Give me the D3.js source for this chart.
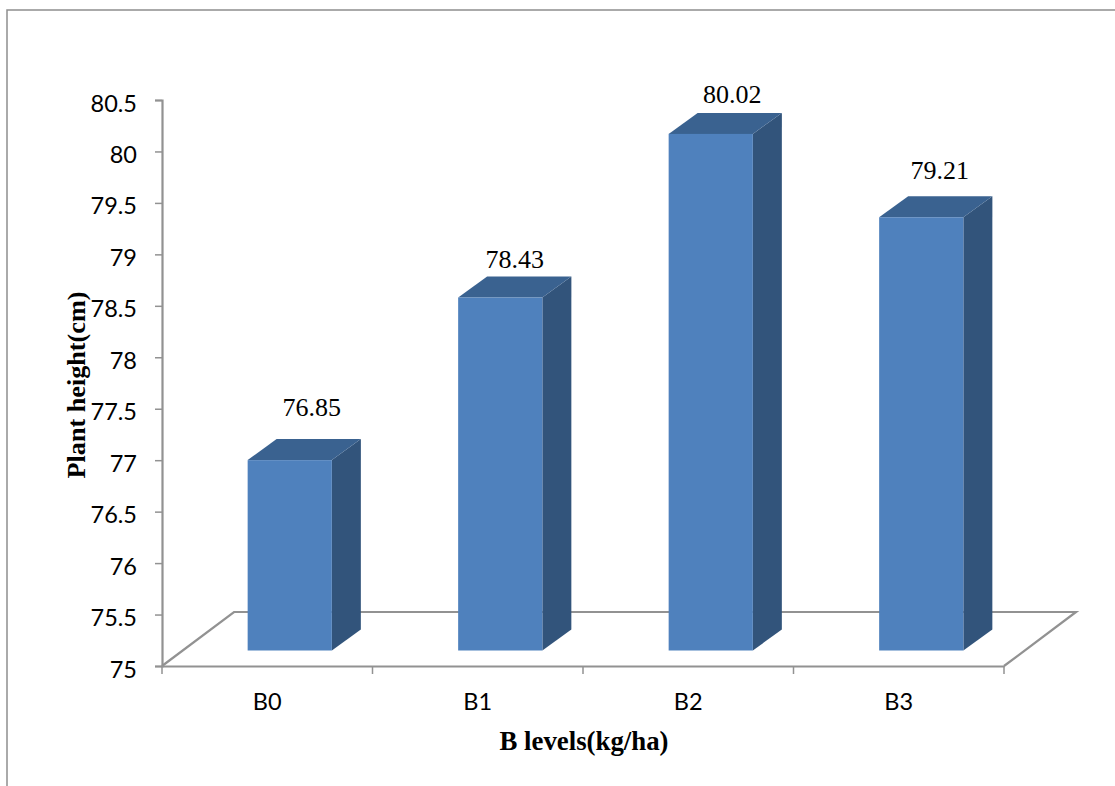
<!DOCTYPE html>
<html>
<head>
<meta charset="utf-8">
<script src="https://cdn.jsdelivr.net/npm/d3@7"></script>
<style>
  html, body { margin: 0; padding: 0; background: #fff; overflow: hidden; }
  svg { display: block; }
</style>
</head>
<body>
<script>
// Plant height at each boron level
const categories = ["B0", "B1", "B2", "B3"];
const heights = [76.85, 78.43, 80.02, 79.21];
const yTickValues = [75, 75.5, 76, 76.5, 77, 77.5, 78, 78.5, 79, 79.5, 80, 80.5];
const xTitle = "B levels(kg/ha)";
const yTitle = "Plant height(cm)";

const W = 1115, H = 786;
const plot = { left: 162, right: 1004, top: 100, bottom: 666 };
const floorDepth = { dx: 72, dy: -54 };   // full depth of the 3-D floor
const barDepth = { dx: 29, dy: -21 };     // depth of each column
const barLift = { dx: 22.5, dy: -15.5 };  // columns stand part-way back on the floor
const axisColor = "#929292";
const colors = { front: "#4f81bd", side: "#32547b", top: "#3a6290" };
const sansFont = "Lato, 'Open Sans', sans-serif";
const serifFont = "'Liberation Serif', 'Times New Roman', serif";

// Data labels sit where they were placed by hand, not in a regular position
const labelNudge = { B0: [7.5, -23], B1: [0, -9], B2: [7, -10], B3: [4, -17] };

const svg = d3.select("body").append("svg").attr("width", W).attr("height", H);

// Chart frame, open towards the right and bottom edges
svg.append("path")
  .attr("d", d3.line()([[7, H], [7, 10], [W, 10]]))
  .attr("fill", "none").attr("stroke", "#8f8f8f").attr("stroke-width", 1.5);

const y = d3.scaleLinear().domain([75, 80.5]).range([plot.bottom, plot.top]);
const x = d3.scaleBand().domain(categories).range([plot.left, plot.right]).paddingInner(0).paddingOuter(0);
const barWidth = x.bandwidth() * 0.4;

// Floor parallelogram behind the columns
svg.append("path")
  .attr("d", d3.line()([
    [plot.left, plot.bottom],
    [plot.left + floorDepth.dx, plot.bottom + floorDepth.dy],
    [plot.right + floorDepth.dx, plot.bottom + floorDepth.dy],
    [plot.right, plot.bottom]
  ]))
  .attr("fill", "none").attr("stroke", axisColor).attr("stroke-width", 2.2);

// Axes
const yAxis = svg.append("g")
  .attr("transform", `translate(${plot.left},0)`)
  .call(d3.axisLeft(y).tickValues(yTickValues).tickFormat(d => String(d)).tickSize(7).tickPadding(18));
const xAxis = svg.append("g")
  .attr("transform", `translate(0,${plot.bottom})`)
  .call(d3.axisBottom(x).tickSize(0).tickPadding(27));

// The value labels hang slightly below their tick marks
yAxis.selectAll("text").attr("dy", "0.47em");

// Category ticks fall on band boundaries
const xEdges = categories.map(c => x(c)).concat(plot.right);
xAxis.selectAll("line.edge").data(xEdges).enter().append("line")
  .attr("class", "edge")
  .attr("x1", d => d).attr("x2", d => d).attr("y1", 0).attr("y2", 8);

[yAxis, xAxis].forEach(g => {
  g.selectAll("path.domain").attr("stroke", axisColor).attr("stroke-width", 2.2);
  g.selectAll("line").attr("stroke", axisColor).attr("stroke-width", 1.5);
  g.selectAll("text").attr("fill", "#000").style("font-family", sansFont).style("font-size", "23.5px");
});

// Columns: front-bottom sits on a baseline lifted back along the floor
const baseY = y(75) + barLift.dy;
const valueY = d3.scaleLinear().domain([75, 80.5]).range([baseY, plot.top + barLift.dy]);
const bars = svg.selectAll("g.bar").data(categories.map((c, i) => ({ c, v: heights[i] })))
  .enter().append("g").attr("class", "bar");

const frontLeft = d => x(d.c) + x.bandwidth() / 2 - barWidth / 2 + barLift.dx;

bars.append("polygon").attr("fill", colors.side)
  .attr("points", d => {
    const xr = frontLeft(d) + barWidth, t = valueY(d.v);
    return [[xr, t], [xr + barDepth.dx, t + barDepth.dy], [xr + barDepth.dx, baseY + barDepth.dy], [xr, baseY]].join(" ");
  });
bars.append("polygon").attr("fill", colors.top)
  .attr("points", d => {
    const xl = frontLeft(d), t = valueY(d.v);
    return [[xl, t], [xl + barDepth.dx, t + barDepth.dy], [xl + barWidth + barDepth.dx, t + barDepth.dy], [xl + barWidth, t]].join(" ");
  });
bars.append("rect").attr("fill", colors.front)
  .attr("x", frontLeft).attr("width", barWidth)
  .attr("y", d => valueY(d.v)).attr("height", d => baseY - valueY(d.v));

// Value labels above each column
bars.append("text")
  .attr("text-anchor", "middle")
  .attr("x", d => frontLeft(d) + (barWidth + barDepth.dx) / 2 + labelNudge[d.c][0])
  .attr("y", d => valueY(d.v) + barDepth.dy + labelNudge[d.c][1])
  .style("font-family", serifFont).style("font-size", "26px").attr("fill", "#000")
  .text(d => d.v.toFixed(2));

// Axis titles
svg.append("text")
  .attr("x", 584).attr("y", 750).attr("text-anchor", "middle")
  .style("font-family", serifFont).style("font-size", "26.8px").style("font-weight", "bold")
  .text(xTitle);
svg.append("text")
  .attr("transform", "translate(85,385) rotate(-90)").attr("text-anchor", "middle")
  .style("font-family", serifFont).style("font-size", "26.2px").style("font-weight", "bold")
  .text(yTitle);
</script>
</body>
</html>
